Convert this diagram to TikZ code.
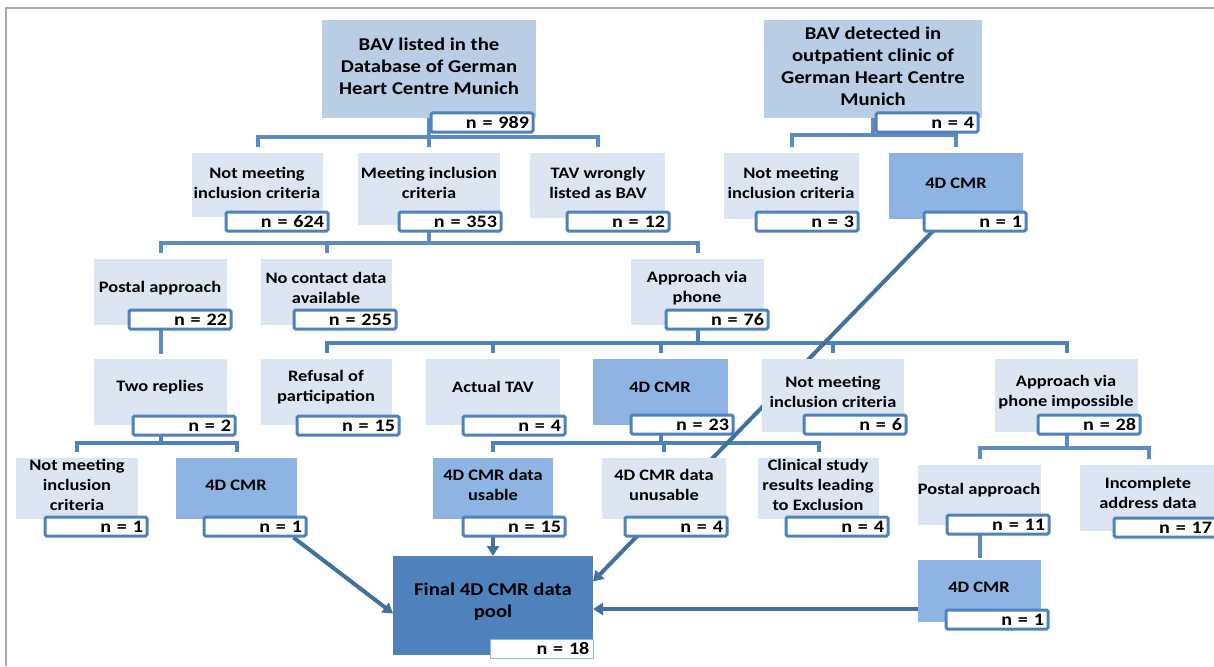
\documentclass[tikz,border=0pt]{standalone}
\usepackage{fontspec}
\setmainfont{Carlito}[FakeStretch=1.15]
\usetikzlibrary{arrows.meta,calc,backgrounds}
\definecolor{lineblue}{HTML}{4F81BD}
\definecolor{texblue}{HTML}{5B8AC4}
\definecolor{arrblue}{HTML}{41719C}
\definecolor{vlight}{HTML}{DCE6F2}
\definecolor{lightb}{HTML}{B9CDE5}
\definecolor{midb}{HTML}{8EB4E3}
\definecolor{darkb}{HTML}{4F81BD}
\definecolor{framegray}{HTML}{A6A6A6}
\newcommand\ftsmall{\fontsize{16}{20}\selectfont\bfseries}
\newcommand\ftbig{\fontsize{18}{22}\selectfont\bfseries}
\newcommand\ftcnt{\fontsize{17.5}{20}\selectfont\bfseries}
\tikzset{
  boxnode/.style={anchor=north west, inner sep=0pt, outer sep=0pt},
  txt/.style={align=center, font=\ftsmall, inner sep=0pt},
  txtbig/.style={align=center, font=\ftbig, inner sep=0pt},
  cnt/.style={anchor=north west, draw=lineblue, line width=3pt, fill=white, rounded corners=1.5pt,
    inner xsep=4pt, inner ysep=0pt, text width=94pt, minimum height=19pt, align=right, font=\ftcnt},
  cntfinal/.style={anchor=north west, draw=lineblue!60, line width=0.8pt, fill=white,
    inner xsep=4pt, inner ysep=0pt, text width=95pt, minimum height=19pt, align=right, font=\ftcnt},
  conn/.style={draw=lineblue, line width=4pt},
  texconn/.style={draw=texblue, line width=4pt},
  arr/.style={draw=arrblue, line width=4pt, -{Triangle[length=10pt,width=12pt]}},
}
\newcommand\bx[6]{\node[boxnode, fill=#6, minimum width=#4pt-#2pt, minimum height=#5pt-#3pt] (#1) at (#2,#3) {};}
\newcommand\cn[4]{\node[cnt] (#1) at (#2,#3) {n = #4};}
\newcommand\branch[4]{\draw[#4] (#1.south) -- (#1.south |- #2) -| ($(#3.north)+(0,-6)$);}
\begin{document}
\begin{tikzpicture}[x=1pt,y=-1pt]
\useasboundingbox (0,0) rectangle (1214,666);
\begin{scope}[on background layer]
\fill[white] (0,0) rectangle (1214,666);
\end{scope}
\draw[framegray, line width=1.8pt] (6,666) -- (6,8) -- (1214,8);

% row 1
\bx{A}{322}{20}{536}{118}{lightb}
\node[txtbig] (At) at (429,66) {BAV listed in the\\Database of German\\Heart Centre Munich};
\cn{Ac}{429.5}{111.5}{989}
\bx{B}{764}{20}{982}{118}{lightb}
\node[txtbig] (Bt) at (873,66) {BAV detected in\\outpatient clinic of\\German Heart Centre\\Munich};
\cn{Bc}{874.5}{111.5}{4}

% row 2
\bx{C}{192}{153}{323}{217}{vlight}
\node[txt] (Ct) at (257,183) {Not meeting\\inclusion criteria};
\cn{Cc}{224.5}{210.5}{624}
\bx{D}{358}{153}{500}{225}{vlight}
\node[txt] (Dt) at (429,183) {Meeting inclusion\\criteria};
\cn{Dc}{397.5}{210.5}{353}
\bx{E}{530}{153}{665}{218}{vlight}
\node[txt] (Et) at (598,183) {TAV wrongly\\listed as BAV};
\cn{Ec}{565.5}{210.5}{12}
\bx{F}{724}{153}{859}{219}{vlight}
\node[txt] (Ft) at (791,183) {Not meeting\\inclusion criteria};
\cn{Fc}{754.5}{210.5}{3}
\bx{G}{889}{153}{1023}{219}{midb}
\node[txt] (Gt) at (956,183) {4D CMR};
\cn{Gc}{922.5}{210.5}{1}

% row 3
\bx{H}{94}{259}{227}{325}{vlight}
\node[txt] (Ht) at (160,288) {Postal approach};
\cn{Hc}{127.5}{308.5}{22}
\bx{I}{261}{259}{392}{325}{vlight}
\node[txt] (It) at (326,288) {No contact data\\available};
\cn{Ic}{292.5}{308.5}{255}
\bx{J}{631}{259}{764}{325}{vlight}
\node[txt] (Jt) at (697,288) {Approach via\\phone};
\cn{Jc}{664.5}{308.5}{76}

% row 4
\bx{K}{94}{359}{227}{425}{vlight}
\node[txt] (Kt) at (160,387) {Two replies};
\cn{Kc}{131.5}{414.5}{2}
\bx{L}{261}{359}{392}{425}{vlight}
\node[txt] (Lt) at (326,387) {Refusal of\\participation};
\cn{Lc}{295.5}{414.5}{15}
\bx{M}{426}{359}{560}{425}{vlight}
\node[txt] (Mt) at (493,387) {Actual TAV};
\cn{Mc}{461.5}{414.5}{4}
\bx{N}{593}{359}{728}{425}{midb}
\node[txt] (Nt) at (660,387) {4D CMR};
\cn{Nc}{629.5}{413.5}{23}
\bx{O}{762}{359}{904}{432}{vlight}
\node[txt] (Ot) at (833,392) {Not meeting\\inclusion criteria};
\cn{Oc}{802.5}{413.5}{6}
\bx{P}{995}{359}{1138}{432}{vlight}
\node[txt] (Pt) at (1066,392) {Approach via\\phone impossible};
\cn{Pc}{1036.5}{413.5}{28}

% row 5
\bx{Q}{16}{458}{138}{519}{vlight}
\node[txt] (Qt) at (77,485) {Not meeting\\inclusion\\criteria};
\cn{Qc}{43.5}{515.5}{1}
\bx{R}{176}{458}{297}{519}{midb}
\node[txt] (Rt) at (236,485) {4D CMR};
\cn{Rc}{202.5}{515.5}{1}
\bx{S}{433}{458}{553}{519}{midb}
\node[txt] (St) at (493,485) {4D CMR data\\usable};
\cn{Sc}{461.5}{515.5}{15}
\bx{T}{602}{458}{726}{519}{vlight}
\node[txt] (Tt) at (664,485) {4D CMR data\\unusable};
\cn{Tc}{623.5}{515.5}{4}
\bx{U}{758}{458}{879}{519}{vlight}
\node[txt] (Ut) at (818,485) {Clinical study\\results leading\\to Exclusion};
\cn{Uc}{784.5}{515.5}{4}
\bx{V}{918}{465}{1041}{525}{vlight}
\node[txt] (Vt) at (979,490) {Postal approach};
\cn{Vc}{945.5}{513.5}{11}
\bx{W}{1080}{465}{1217}{531}{vlight}
\node[txt] (Wt) at (1148,493) {Incomplete\\address data};
\cn{Wc}{1112.5}{516.5}{17}

% row 6
\bx{Y}{918}{560}{1041}{622}{midb}
\node[txt] (Yt) at (979,587) {4D CMR};
\cn{Yc}{944.5}{608.5}{1}
\bx{X}{393}{556}{593}{655}{darkb}
\node[txtbig] (Xt) at (493,602) {Final 4D CMR data\\pool};
\node[cntfinal] (Xc) at (490,639) {n = 18};

\begin{scope}[on background layer]
  \coordinate (barA) at (0,137);
  \coordinate (barB) at (0,135);
  \coordinate (barD) at (0,243);
  \coordinate (barJ) at (0,343);
  \coordinate (barK) at (0,443);
  \coordinate (barN) at (0,443);
  \coordinate (barP) at (0,448);
  \branch{A}{barA}{C}{texconn}
  \branch{A}{barA}{D}{texconn}
  \branch{A}{barA}{E}{texconn}
  \branch{B}{barB}{F}{texconn}
  \branch{B}{barB}{G}{texconn}
  \branch{D}{barD}{H}{texconn}
  \branch{D}{barD}{I}{texconn}
  \branch{D}{barD}{J}{texconn}
  \branch{J}{barJ}{L}{conn}
  \branch{J}{barJ}{M}{conn}
  \branch{J}{barJ}{N}{conn}
  \branch{J}{barJ}{O}{conn}
  \branch{J}{barJ}{P}{conn}
  \draw[texconn] (H.south) -- ($(K.north)+(0,-5)$);
  \branch{K}{barK}{Q}{conn}
  \branch{K}{barK}{R}{conn}
  \branch{N}{barN}{S}{conn}
  \branch{N}{barN}{T}{conn}
  \branch{N}{barN}{U}{conn}
  \branch{P}{barP}{V}{texconn}
  \branch{P}{barP}{W}{texconn}
  \draw[texconn] (V.south) -- ($(Y.north)+(0,-2)$);
  % arrows to the final pool
  \coordinate (gs) at ($(Gc.south west)+(11,-2)$);
  \coordinate (ge) at ($(X.east)+(0,-24)$);
  \draw[arr] (gs) -- (ge);
  \coordinate (rs) at ($(Rc.south east)+(-14,0)$);
  \coordinate (re) at ($(X.west)+(0,8)$);
  \draw[arr] (rs) -- (re);
  \draw[arr] (S.south) -- (X.north);
  \coordinate (ys) at ($(Y.west)+(0,18)$);
  \draw[arr] (ys) -- (ys -| X.east);
\end{scope}
\end{tikzpicture}
\end{document}
